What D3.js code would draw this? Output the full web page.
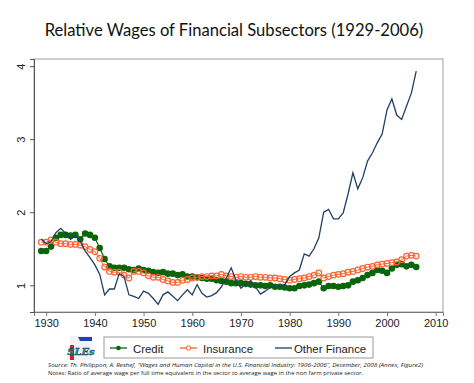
<!doctype html>
<html lang="en">
<head>
<meta charset="utf-8">
<title>Relative Wages of Financial Subsectors</title>
<style>
  body { margin: 0; background: #ffffff; }
  svg { display: block; }
  svg text { font-family: "Liberation Sans", Arial, sans-serif; }
</style>
</head>
<body>
<script src="https://d3js.org/d3.v7.min.js"></script>
<script>
// data (ratio to non farm private wage), 1929-2006
var years = d3.range(1929, 2007);

var credit = [1.47, 1.47, 1.53, 1.65, 1.69, 1.69, 1.68, 1.69, 1.63, 1.71,
  1.69, 1.65, 1.51, 1.36, 1.26, 1.24, 1.24, 1.24, 1.22, 1.21,
  1.23, 1.21, 1.20, 1.18, 1.17, 1.18, 1.16, 1.16, 1.14, 1.15,
  1.12, 1.12, 1.11, 1.10, 1.09, 1.09, 1.07, 1.06, 1.05, 1.03,
  1.03, 1.03, 1.02, 1.01, 1.00, 1.00, 0.99, 1.00, 0.98, 0.98,
  0.97, 0.96, 0.96, 0.99, 1.00, 1.01, 1.03, 1.05, 0.96, 0.99,
  0.99, 0.98, 0.99, 1.00, 1.05, 1.07, 1.10, 1.14, 1.17, 1.21,
  1.20, 1.17, 1.23, 1.28, 1.29, 1.26, 1.28, 1.25];

var insurance = [1.59, 1.59, 1.62, 1.59, 1.57, 1.57, 1.56, 1.56, 1.55, 1.53,
  1.49, 1.46, 1.37, 1.25, 1.19, 1.18, 1.18, 1.14, 1.10, 1.19,
  1.19, 1.17, 1.13, 1.11, 1.11, 1.08, 1.06, 1.04, 1.04, 1.07,
  1.08, 1.10, 1.11, 1.12, 1.12, 1.13, 1.13, 1.15, 1.13, 1.12,
  1.11, 1.12, 1.11, 1.11, 1.12, 1.11, 1.11, 1.10, 1.10, 1.09,
  1.08, 1.07, 1.08, 1.09, 1.10, 1.12, 1.14, 1.17, 1.10, 1.12,
  1.14, 1.15, 1.16, 1.18, 1.19, 1.21, 1.23, 1.25, 1.26, 1.28,
  1.29, 1.30, 1.31, 1.32, 1.35, 1.40, 1.41, 1.40];

var otherFinance = [1.63, 1.57, 1.60, 1.72, 1.78, 1.71, 1.63, 1.68, 1.60, 1.47,
  1.38, 1.28, 1.15, 0.87, 0.95, 0.95, 1.16, 1.12, 0.87, 0.85,
  0.82, 0.92, 0.89, 0.82, 0.74, 0.87, 0.91, 0.85, 0.79, 0.87,
  0.94, 0.87, 1.01, 0.89, 0.84, 0.86, 0.90, 0.98, 1.10, 1.24,
  1.07, 0.96, 1.02, 1.06, 0.98, 0.88, 0.92, 0.97, 0.98, 0.99,
  1.01, 1.12, 1.17, 1.21, 1.43, 1.40, 1.50, 1.65, 2.00, 2.04,
  1.91, 1.91, 1.99, 2.25, 2.54, 2.32, 2.47, 2.70, 2.81, 2.95,
  3.07, 3.40, 3.55, 3.33, 3.27, 3.45, 3.63, 3.93];

var xTicks = [1930, 1940, 1950, 1960, 1970, 1980, 1990, 2000, 2010];
var yTicks = [1, 2, 3, 4];
var seriesNames = ["Credit", "Insurance", "Other Finance"];

var w = 474, h = 383;
var green = "#0a650a", orange = "#ff6130", navy = "#1f3f66";
var arial = "'Liberation Sans', Arial, sans-serif";

var svg = d3.select("body").append("svg")
  .attr("width", w)
  .attr("height", h);

var x = d3.scaleLinear().domain([1927.5, 2011.5]).range([34, 443]);
var y = d3.scaleLinear().domain([0.635, 4.097]).range([312, 59]);

// title
svg.append("text")
  .attr("x", 234).attr("y", 36)
  .attr("text-anchor", "middle")
  .style("font-family", "Lato, 'Open Sans', sans-serif")
  .style("font-size", "16.6px")
  .style("fill", "#111")
  .text("Relative Wages of Financial Subsectors (1929-2006)");

// plot frame
svg.append("rect")
  .attr("x", 34).attr("y", 59)
  .attr("width", 409).attr("height", 253)
  .attr("fill", "none")
  .attr("stroke", "#a0a0a0")
  .attr("stroke-width", 1);

// axes
var xAxis = svg.append("g")
  .attr("transform", "translate(0,312)")
  .call(d3.axisBottom(x).tickValues(xTicks).tickFormat(d3.format("d")).tickSize(4).tickPadding(3));
xAxis.select(".domain").attr("stroke", "#777");
xAxis.selectAll(".tick line").attr("stroke", "#777");
xAxis.selectAll("text").style("font-family", arial).style("font-size", "11px").style("fill", "#222");

var yAxis = svg.append("g")
  .attr("transform", "translate(34,0)")
  .call(d3.axisLeft(y).tickValues(yTicks).tickFormat(d3.format("d")).tickSize(4).tickPadding(3));
yAxis.select(".domain").attr("stroke", "#555");
yAxis.selectAll(".tick line").attr("stroke", "#555");
yAxis.selectAll("text")
  .style("font-family", arial).style("font-size", "11px").style("fill", "#222")
  .attr("text-anchor", "middle")
  .attr("x", 0).attr("dy", 0)
  .attr("transform", "translate(-13,0) rotate(-90)")
  .attr("y", 4);

var line = d3.line()
  .x(function(d, i) { return x(years[i]); })
  .y(function(d) { return y(d); });

// credit
svg.append("path").datum(credit)
  .attr("d", line).attr("fill", "none")
  .attr("stroke", green).attr("stroke-width", 1.2);
svg.append("g").selectAll("circle")
  .data(credit).enter().append("circle")
  .attr("cx", function(d, i) { return x(years[i]); })
  .attr("cy", function(d) { return y(d); })
  .attr("r", 3.3)
  .attr("fill", green);

// insurance
svg.append("path").datum(insurance)
  .attr("d", line).attr("fill", "none")
  .attr("stroke", orange).attr("stroke-width", 1);
svg.append("g").selectAll("circle")
  .data(insurance).enter().append("circle")
  .attr("cx", function(d, i) { return x(years[i]); })
  .attr("cy", function(d) { return y(d); })
  .attr("r", 2.8)
  .attr("fill", "none")
  .attr("stroke", orange)
  .attr("stroke-width", 1.2);

// other finance
svg.append("path").datum(otherFinance)
  .attr("d", line).attr("fill", "none")
  .attr("stroke", navy).attr("stroke-width", 1.3);

// legend
var legend = svg.append("g");
legend.append("rect")
  .attr("x", 104).attr("y", 337)
  .attr("width", 269).attr("height", 21)
  .attr("fill", "#fff").attr("stroke", "#999");

var legX = [110, 180, 275];
var legColors = [green, orange, navy];
seriesNames.forEach(function(name, i) {
  var lx = legX[i];
  legend.append("line")
    .attr("x1", lx).attr("x2", lx + 17)
    .attr("y1", 348).attr("y2", 348)
    .attr("stroke", legColors[i]).attr("stroke-width", 1.3);
  if (i == 0) {
    legend.append("circle").attr("cx", lx + 8.5).attr("cy", 348).attr("r", 2.3).attr("fill", green);
  } else if (i == 1) {
    legend.append("circle").attr("cx", lx + 8.5).attr("cy", 348).attr("r", 2.2)
      .attr("fill", "#fff").attr("stroke", orange).attr("stroke-width", 1);
  }
  legend.append("text")
    .attr("x", lx + (i == 2 ? 19 : 23)).attr("y", 352.5)
    .style("font-family", arial)
    .style("font-size", "11.4px").style("fill", "#222")
    .text(name);
});

// SLEs logo
var logo = svg.append("g");
logo.append("rect").attr("x", 70).attr("y", 336).attr("width", 22).attr("height", 24).attr("fill", "#f2f2f2");
logo.append("polygon").attr("points", "78,337 92,337 92,341 80,341").attr("fill", "#1f3fbf");
logo.append("polygon").attr("points", "70,345 74,345 74,360 70,360").attr("fill", "#d42020");
logo.append("text")
  .attr("x", 81).attr("y", 355)
  .attr("text-anchor", "middle")
  .style("font-family", "'DejaVu Serif', serif")
  .style("font-style", "italic").style("font-weight", "bold")
  .style("font-size", "10px")
  .style("fill", "#10a060").style("stroke", "#1a3a8a").style("stroke-width", 0.4)
  .text("SLEs");

// source and notes
svg.append("text")
  .attr("x", 48).attr("y", 367)
  .attr("textLength", 375).attr("lengthAdjust", "spacingAndGlyphs")
  .style("font-family", "'Open Sans', sans-serif")
  .style("font-size", "6px").style("font-style", "italic").style("fill", "#222")
  .text("Source: Th. Philippon, A. Reshef, \u201cWages and Human Capital in the U.S. Financial Industry: 1906-2006\u201d, December, 2008 (Annex, Figure2)");
svg.append("text")
  .attr("x", 48).attr("y", 375)
  .attr("textLength", 315).attr("lengthAdjust", "spacingAndGlyphs")
  .style("font-family", "'Open Sans', sans-serif")
  .style("font-size", "6px").style("fill", "#222")
  .text("Notes: Ratio of average wage per full time equivalent in the sector to average wage in the non farm private sector.");
</script>
</body>
</html>
